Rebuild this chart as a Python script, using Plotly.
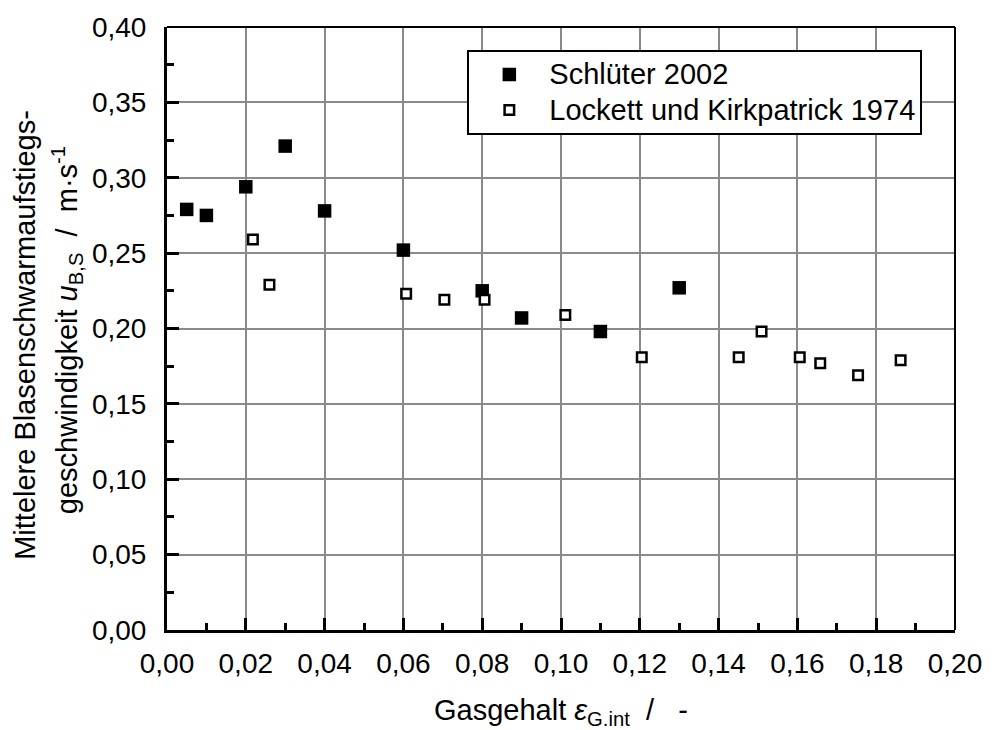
import plotly.graph_objects as go

# Gasgehalt (x) und mittlere Blasenschwarmaufstiegsgeschwindigkeit (y)
schlueter_x = [0.005, 0.010, 0.020, 0.030, 0.040, 0.060, 0.080, 0.090, 0.110, 0.130]
schlueter_y = [0.279, 0.275, 0.294, 0.321, 0.278, 0.252, 0.225, 0.207, 0.198, 0.227]

lockett_x = [0.0218, 0.0260, 0.0607, 0.0704, 0.0806, 0.1011, 0.1205, 0.1451,
             0.1509, 0.1606, 0.1658, 0.1754, 0.1862]
lockett_y = [0.259, 0.229, 0.223, 0.219, 0.219, 0.209, 0.181, 0.181,
             0.198, 0.181, 0.177, 0.169, 0.179]

x_ticks = [0.00, 0.02, 0.04, 0.06, 0.08, 0.10, 0.12, 0.14, 0.16, 0.18, 0.20]
y_ticks = [0.00, 0.05, 0.10, 0.15, 0.20, 0.25, 0.30, 0.35, 0.40]

FONT = "Liberation Sans, Arial, sans-serif"
TICK_FS = 28
TEXT_FS = 29


def big(label):
    return f"<span style='font-size:{TEXT_FS}px'>{label}</span>"


fig = go.Figure()
fig.add_trace(go.Scatter(
    x=schlueter_x, y=schlueter_y, mode="markers", name=big("Schlüter 2002"),
    marker=dict(symbol="square", size=13.5, color="black", line=dict(width=0)),
))
fig.add_trace(go.Scatter(
    x=lockett_x, y=lockett_y, mode="markers", name=big("Lockett und Kirkpatrick 1974"),
    marker=dict(symbol="square", size=9.5, color="white",
                line=dict(width=2.5, color="black")),
))

axis_common = dict(
    showline=True, linecolor="black", linewidth=3, mirror=False,
    ticks="inside", ticklen=12, tickwidth=2.5, tickcolor="black",
    showgrid=True, gridcolor="#8a8a8a", gridwidth=1.5,
    zeroline=False, tickformat=".2f",
    tickfont=dict(family=FONT, size=TICK_FS, color="black"),
)

fig.update_xaxes(
    range=[0, 0.20], tickvals=x_ticks,
    minor=dict(dtick=0.01, ticks="inside", ticklen=7, tickwidth=2.5,
               tickcolor="black", showgrid=False),
    ticklabelstandoff=6,
    **axis_common,
)
fig.update_yaxes(
    range=[0, 0.40], tickvals=y_ticks,
    minor=dict(dtick=0.025, ticks="inside", ticklen=7, tickwidth=2.5,
               tickcolor="black", showgrid=False),
    ticklabelstandoff=12,
    **axis_common,
)

# top and right frame lines
fig.add_shape(type="line", xref="paper", yref="paper", x0=0, x1=1, y0=1, y1=1,
              line=dict(color="black", width=2))
fig.add_shape(type="line", xref="paper", yref="paper", x0=1, x1=1, y0=0, y1=1,
              line=dict(color="black", width=2))

# axis titles
fig.add_annotation(
    xref="paper", yref="paper", x=0.5, y=-0.1020, xanchor="center", yanchor="top",
    showarrow=False,
    text="Gasgehalt <i>ε</i><sub>G.int</sub>  /   -",
    font=dict(family=FONT, size=TEXT_FS, color="black"),
)
fig.add_annotation(
    xref="paper", yref="paper", x=(23 - 167) / 795, y=0.49, xanchor="center",
    yanchor="middle", showarrow=False, textangle=-90,
    text="Mittelere Blasenschwarmaufstiegs-",
    font=dict(family=FONT, size=TEXT_FS, color="black"),
)
fig.add_annotation(
    xref="paper", yref="paper", x=(66 - 167) / 795, y=0.497, xanchor="center",
    yanchor="middle", showarrow=False, textangle=-90,
    text="geschwindigkeit <i>u</i><sub>B,S</sub>  /  m·s<sup>-1</sup>",
    font=dict(family=FONT, size=TEXT_FS, color="black"),
)

fig.update_layout(
    width=994, height=730,
    margin=dict(l=167, r=32, t=23, b=100),
    paper_bgcolor="white", plot_bgcolor="white",
    separators=",.",
    font=dict(family=FONT, size=TICK_FS, color="black"),
    showlegend=True,
    legend=dict(
        x=(470 - 167) / 795, y=(630 - 46) / 607, xanchor="left", yanchor="top",
        bgcolor="white", bordercolor="black", borderwidth=2,
        itemwidth=70, font=dict(family=FONT, size=25, color="black"),
    ),
)

fig.write_html("out.html")
